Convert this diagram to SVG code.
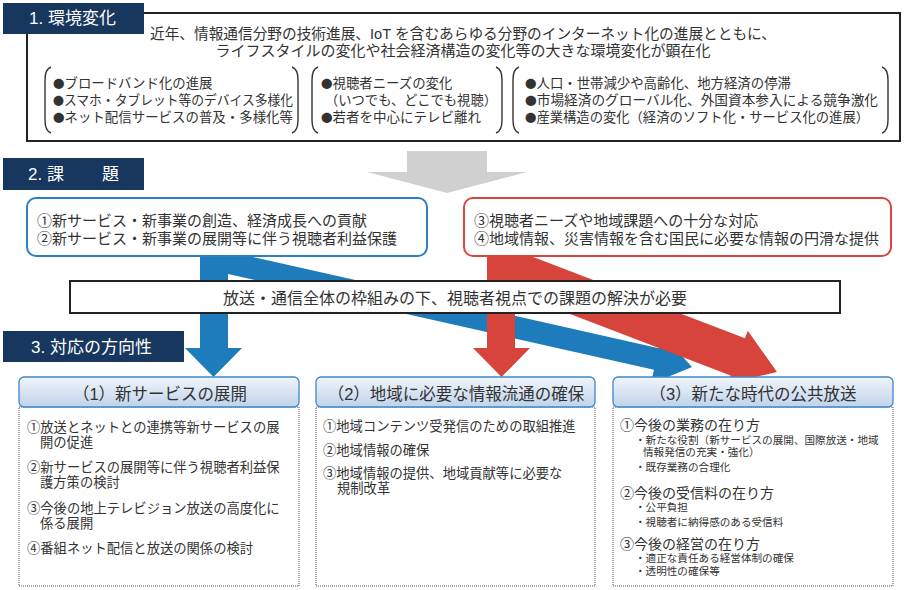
<svg xmlns="http://www.w3.org/2000/svg" width="906" height="590" viewBox="0 0 906 590">
<defs>
<linearGradient id="hdr" x1="0" y1="0" x2="0" y2="1">
<stop offset="0" stop-color="#f1f5fb"/>
<stop offset="1" stop-color="#bfd3ea"/>
</linearGradient>
<style>
text{font-family:'Liberation Sans','Noto Sans CJK JP','Noto Sans CJK SC',sans-serif;fill:#333;}
.dot{font-family:'Noto Sans CJK JP',sans-serif;font-size:11.5px;}
.lbl{fill:#17375e;}
.lblt{fill:#fff;font-size:17px;}
.big{font-size:15px;}
.b13{font-size:13.4px;}
.c13{font-size:13.3px;}
.mid{font-size:16px;}
.ttl{font-size:16.5px;text-anchor:middle;}
.h14{font-size:14px;}
.s11{font-size:10.6px;}
.brk{fill:none;stroke:#333;stroke-width:1.4;}
.hdrbox{fill:url(#hdr);stroke:#3f88c9;stroke-width:1.3;}
.body{fill:#fff;stroke:#555;stroke-width:1;stroke-dasharray:1 1;}
.blue{fill:#1f7cbc;}
.red{fill:#d7443c;}
</style>
</defs>
<rect width="906" height="590" fill="#fff"/>

<g id="connectors">
<polygon fill="#d0d0d0" points="407,151 487,151 487,172 527,172 447,193 367,172 407,172"/>
<g transform="translate(692,367) rotate(12.67)"><polygon class="blue" points="-480,-11 -36.5,-11 -36.5,-25.6 0,0 -36.5,25.6 -36.5,11 -480,11"/></g>
<g transform="translate(777,372) rotate(21)"><polygon class="red" points="-300,-20 -42,-20 -42,-28 0,0 -42,28 -42,20 -300,20"/></g>
<polygon class="blue" points="200,250 228,250 228,348 242,348 213.5,377 185,348 200,348"/>
<polygon class="red" points="487,250 515,250 515,348 530,348 501.5,377 473,348 487,348"/>
</g>

<g id="env-box">
<rect x="27" y="13" width="873" height="128" fill="#fff" stroke="#222" stroke-width="2"/>
<text class="big" x="150" y="38.5" textLength="626" lengthAdjust="spacingAndGlyphs">近年、情報通信分野の技術進展、IoT を含むあらゆる分野のインターネット化の進展とともに、</text>
<text class="big" x="463" y="55.7" text-anchor="middle">ライフスタイルの変化や社会経済構造の変化等の大きな環境変化が顕在化</text>
</g>
<g id="env-group1">
<path class="brk" d="M51,67 Q45,69 45,80 L45,120 Q45,131 51,133"/>
<path class="brk" d="M292,67 Q298,69 298,80 L298,120 Q298,131 292,133"/>
<text class="b13" x="53" y="88"><tspan class="dot">●</tspan>ブロードバンド化の進展</text>
<text class="b13" x="53" y="105" textLength="240" lengthAdjust="spacingAndGlyphs"><tspan class="dot">●</tspan>スマホ・タブレット等のデバイス多様化</text>
<text class="b13" x="53" y="122" textLength="240" lengthAdjust="spacingAndGlyphs"><tspan class="dot">●</tspan>ネット配信サービスの普及・多様化等</text>
</g>
<g id="env-group2">
<path class="brk" d="M318,67 Q312,69 312,80 L312,120 Q312,131 318,133"/>
<path class="brk" d="M496,67 Q502,69 502,80 L502,120 Q502,131 496,133"/>
<text class="b13" x="321" y="88"><tspan class="dot">●</tspan>視聴者ニーズの変化</text>
<text class="b13" x="325" y="105" textLength="172" lengthAdjust="spacingAndGlyphs">（いつでも、どこでも視聴）</text>
<text class="b13" x="321" y="122" textLength="160" lengthAdjust="spacingAndGlyphs"><tspan class="dot">●</tspan>若者を中心にテレビ離れ</text>
</g>
<g id="env-group3">
<path class="brk" d="M519,67 Q513,69 513,80 L513,120 Q513,131 519,133"/>
<path class="brk" d="M882,67 Q888,69 888,80 L888,120 Q888,131 882,133"/>
<text class="b13" x="525" y="88"><tspan class="dot">●</tspan>人口・世帯減少や高齢化、地方経済の停滞</text>
<text class="b13" x="525" y="105" textLength="353" lengthAdjust="spacingAndGlyphs"><tspan class="dot">●</tspan>市場経済のグローバル化、外国資本参入による競争激化</text>
<text class="b13" x="525" y="122" textLength="344" lengthAdjust="spacingAndGlyphs"><tspan class="dot">●</tspan>産業構造の変化（経済のソフト化・サービス化の進展）</text>
</g>
<g id="label1">
<rect class="lbl" x="3" y="3" width="141" height="31"/>
<text class="lblt" x="29" y="24">1.  環境変化</text>
</g>

<g id="label2">
<rect class="lbl" x="3" y="158" width="141" height="32"/>
<text class="lblt" x="28" y="180">2.  課</text>
<text class="lblt" x="102" y="180">題</text>
</g>
<g id="issue-blue">
<rect x="27" y="198" width="400" height="58" rx="9" fill="#fff" stroke="#2b7fc3" stroke-width="2"/>
<text class="big" x="37" y="225.7">①新サービス・新事業の創造、経済成長への貢献</text>
<text class="big" x="37" y="243.7">②新サービス・新事業の展開等に伴う視聴者利益保護</text>
</g>
<g id="issue-red">
<rect x="464" y="198" width="427" height="58" rx="9" fill="#fff" stroke="#d9463e" stroke-width="2"/>
<text class="big" x="474" y="225.7">③視聴者ニーズや地域課題への十分な対応</text>
<text class="big" x="474" y="243.7">④地域情報、災害情報を含む国民に必要な情報の円滑な提供</text>
</g>
<g id="common">
<rect x="70" y="281" width="770" height="32" fill="#fff" stroke="#222" stroke-width="2"/>
<text class="mid" x="455" y="304" text-anchor="middle">放送・通信全体の枠組みの下、視聴者視点での課題の解決が必要</text>
</g>

<g id="label3">
<rect class="lbl" x="3" y="331" width="181" height="31"/>
<text class="lblt" x="31" y="353">3.  対応の方向性</text>
</g>

<g id="col1">
<rect class="body" x="19" y="407" width="280" height="179"/>
<rect class="hdrbox" x="19" y="377" width="280" height="30" rx="5"/>
<text class="ttl" x="160" y="400">（1）新サービスの展開</text>
<text class="c13" x="27" y="432">①放送とネットとの連携等新サービスの展</text>
<text class="c13" x="40" y="447">開の促進</text>
<text class="c13" x="27" y="472">②新サービスの展開等に伴う視聴者利益保</text>
<text class="c13" x="40" y="487">護方策の検討</text>
<text class="c13" x="27" y="513">③今後の地上テレビジョン放送の高度化に</text>
<text class="c13" x="40" y="528">係る展開</text>
<text class="c13" x="27" y="553">④番組ネット配信と放送の関係の検討</text>
</g>

<g id="col2">
<rect class="body" x="316" y="407" width="279" height="179"/>
<rect class="hdrbox" x="316" y="377" width="279" height="30" rx="5"/>
<text class="ttl" x="456" y="400">（2）地域に必要な情報流通の確保</text>
<text class="c13" x="323" y="431">①地域コンテンツ受発信のための取組推進</text>
<text class="c13" x="323" y="455">②地域情報の確保</text>
<text class="c13" x="323" y="478">③地域情報の提供、地域貢献等に必要な</text>
<text class="c13" x="337" y="493">規制改革</text>
</g>

<g id="col3">
<rect class="body" x="613" y="407" width="280" height="179"/>
<rect class="hdrbox" x="613" y="377" width="280" height="30" rx="5"/>
<text class="ttl" x="753" y="400">（3）新たな時代の公共放送</text>
<text class="h14" x="620" y="429.5">①今後の業務の在り方</text>
<text class="s11" x="635" y="444">・新たな役割（新サービスの展開、国際放送・地域</text>
<text class="s11" x="643" y="456">情報発信の充実・強化）</text>
<text class="s11" x="635" y="471">・既存業務の合理化</text>
<text class="h14" x="620" y="498">②今後の受信料の在り方</text>
<text class="s11" x="635" y="511">・公平負担</text>
<text class="s11" x="635" y="526">・視聴者に納得感のある受信料</text>
<text class="h14" x="620" y="548.5">③今後の経営の在り方</text>
<text class="s11" x="635" y="562">・適正な責任ある経営体制の確保</text>
<text class="s11" x="635" y="575">・透明性の確保等</text>
</g>
</svg>
